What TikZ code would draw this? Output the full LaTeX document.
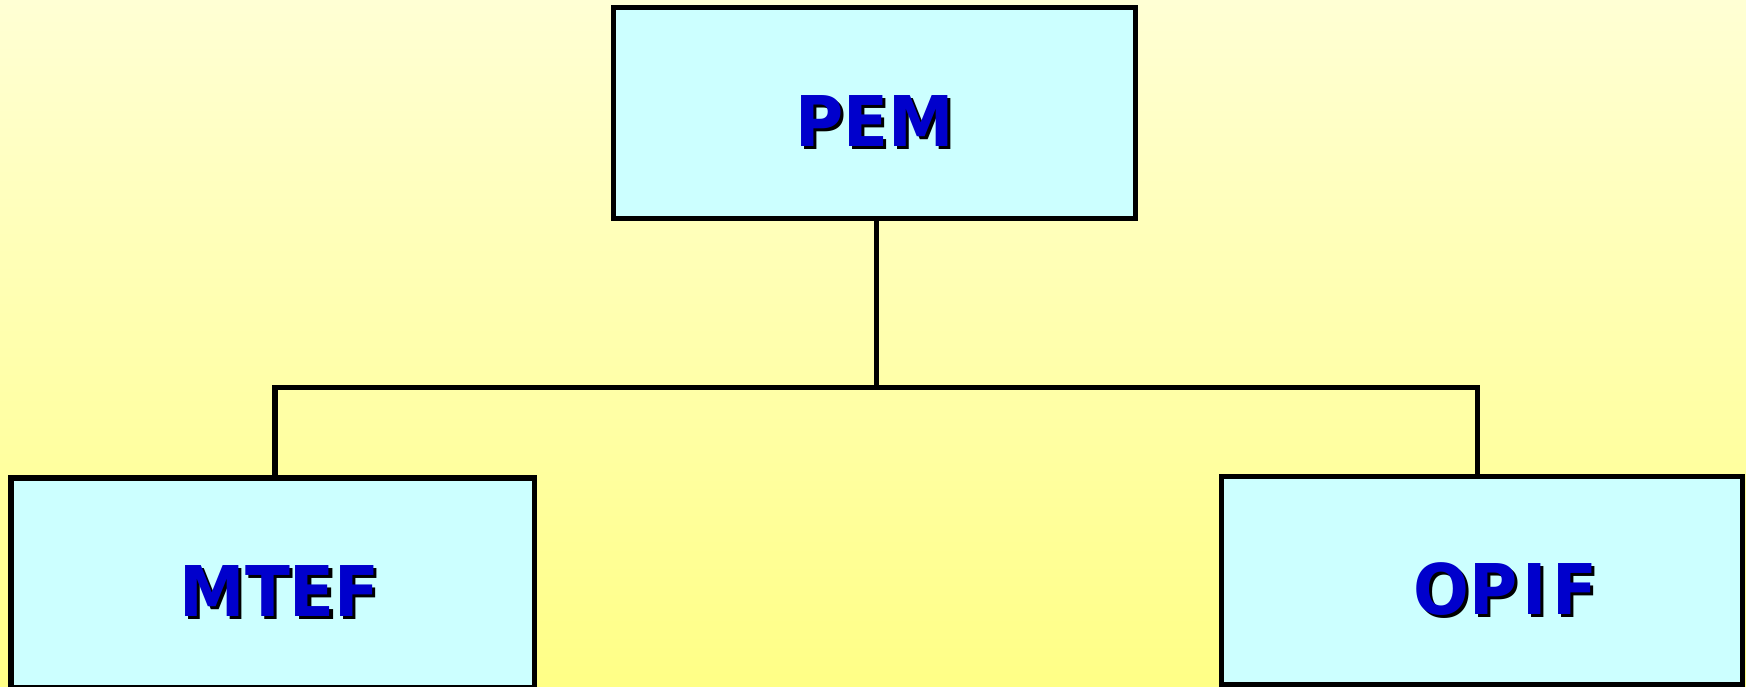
\documentclass[tikz,border=0pt]{standalone}
\usepackage{fontspec}
\newfontfamily\boxfont[FakeStretch=0.94]{DejaVu Sans}
\definecolor{skytop}{RGB}{255,255,212}
\definecolor{skybottom}{RGB}{255,255,134}
\definecolor{boxfill}{RGB}{204,255,255}
\definecolor{boxtext}{RGB}{0,0,204}
% blue caps with a small black drop shadow
\newcommand{\shadowed}[1]{\rlap{\kern0.9pt\raisebox{-0.9pt}{\color{black}#1}}#1}

\begin{document}
\begin{tikzpicture}
[line width=1.5pt,
unit/.style={rectangle, draw=black, fill=boxfill, text=boxtext, inner sep=0pt,
  minimum width=5.22cm, minimum height=2.08cm, text height=19pt, text depth=0pt,
  font=\boxfont\bfseries\fontsize{19.9}{22}\selectfont}]

\useasboundingbox (0,0) rectangle (17.46,6.87);
\shade[top color=skytop, bottom color=skybottom] (0,0) rectangle (17.46,6.87);

\node[unit, minimum height=2.105cm] (PEM) at (8.747,5.74) {\shadowed{PEM}};
\node[unit, minimum width=5.235cm, minimum height=2.10cm] (MTEF) at (2.727,1.04) {\hspace*{0.14cm}\shadowed{MTEF}};
\node[unit, minimum width=5.21cm] (OPIF) at (14.821,1.063) {\hspace*{0.46cm}\shadowed{OP\kern1.5pt I\kern1.5pt F}};

\coordinate (junction) at ([xshift=0.016cm]PEM.south |- 0,2.995);
\draw ([xshift=0.016cm]PEM.south) -- (junction);
\draw ([xshift=0.023cm]MTEF.north) |- (junction) -| ([xshift=-0.045cm]OPIF.north);
\end{tikzpicture}
\end{document}
